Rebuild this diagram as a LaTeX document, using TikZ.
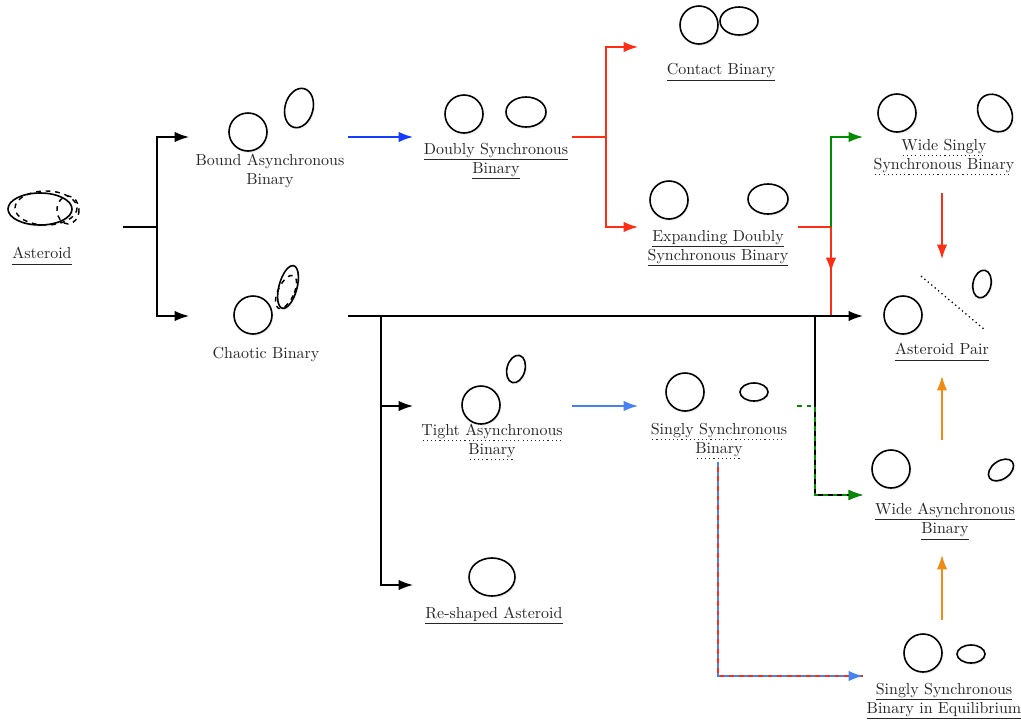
\documentclass[tikz,border=0pt]{standalone}
\usepackage{tikz}
\usetikzlibrary{arrows.meta,shadows}

\definecolor{redarr}{RGB}{255,45,20}
\definecolor{bluearr}{RGB}{20,60,255}
\definecolor{lightblue}{RGB}{70,130,240}
\definecolor{greenarr}{RGB}{0,140,0}
\definecolor{orangearr}{RGB}{240,140,20}

% solid and dotted underlines
\newsavebox{\ulinebox}
\newcommand{\solidul}[1]{\sbox{\ulinebox}{#1}\leavevmode\rlap{\usebox{\ulinebox}}%
  \raisebox{-3.6pt}[0pt][0pt]{\rule{\wd\ulinebox}{0.55pt}}}
\newcommand{\dottedul}[1]{\sbox{\ulinebox}{#1}\leavevmode\rlap{\usebox{\ulinebox}}%
  \raisebox{-3.6pt}[0pt][0pt]{\hbox to \wd\ulinebox{\leaders\hbox to 2.6pt{\hss\rule{0.7pt}{0.7pt}\hss}\hfil}}}

\tikzset{
  body/.style={draw=black, line width=1pt, fill=white,
    drop shadow={opacity=0.12, shadow xshift=0.8pt, shadow yshift=-1.2pt}},
  label/.style={align=center, text=black!85, font=\normalsize},
  conn/.style={line width=0.9pt},
  tip/.style={-{Latex[length=9pt,width=6.5pt]}},
}

\begin{document}
\begin{tikzpicture}[x=0.022cm,y=-0.022cm]
\useasboundingbox (0,0) rectangle (1021,721);

% bodies
\draw[body] (40,209) ellipse [x radius=32, y radius=16];
\draw[line width=0.9pt, dashed] (46,208) ellipse [x radius=31, y radius=17];
\draw[line width=0.9pt, dashed] (68,210) ellipse [x radius=11, y radius=14];
\draw[body] (248,132) circle [radius=19];
\draw[body, rotate around={-15:(299,108)}] (299,108) ellipse [x radius=14, y radius=20];
\draw[body] (253,315) circle [radius=19];
\draw[body, rotate around={-15:(288,287)}] (288,287) ellipse [x radius=9, y radius=22];
\draw[line width=0.9pt, dashed, rotate around={-25:(286,292)}] (286,292) ellipse [x radius=8, y radius=18];
\draw[body] (464,114) circle [radius=19];
\draw[body] (526,112) ellipse [x radius=20, y radius=15];
\draw[body] (699,25) circle [radius=19];
\draw[body] (739,21) ellipse [x radius=19, y radius=14];
\draw[body] (669,200) circle [radius=19];
\draw[body] (768,199) ellipse [x radius=20, y radius=15];
\draw[body] (897,113) circle [radius=19];
\draw[body, rotate around={35:(995,113)}] (995,113) ellipse [x radius=16, y radius=20];
\draw[body] (903,315) circle [radius=19];
\draw[body, rotate around={-12:(982,284)}] (982,284) ellipse [x radius=9, y radius=14];
\draw[line width=0.8pt, dotted] (921,276) -- (985,330);
\draw[body] (481,405) circle [radius=19];
\draw[body, rotate around={-15:(516,369)}] (516,369) ellipse [x radius=9, y radius=14];
\draw[body] (685,392) circle [radius=19];
\draw[body] (754,392) ellipse [x radius=14, y radius=9];
\draw[body] (891,469) circle [radius=19];
\draw[body, rotate around={35:(1001,470)}] (1001,470) ellipse [x radius=14, y radius=9];
\draw[body] (923,653) circle [radius=19];
\draw[body] (971,654) ellipse [x radius=14, y radius=9];
\draw[body] (492,577) ellipse [x radius=23, y radius=19];

% labels
\node[label] (ast)  at (42,253)  {\solidul{Asteroid}};
\node[label] (bab)  at (270,171) {Bound Asynchronous\\Binary};
\node[label] (cb)   at (266,354) {Chaotic Binary};
\node[label] (dsb)  at (496,160) {\solidul{Doubly Synchronous}\\\solidul{Binary}};
\node[label] (con)  at (721,71)  {\solidul{Contact Binary}};
\node[label] (edsb) at (718,247) {\solidul{Expanding Doubly}\\\solidul{Synchronous Binary}};
\node[label] (wssb) at (944,156) {\dottedul{Wide Singly}\\\dottedul{Synchronous Binary}};
\node[label] (ap)   at (942,349) {\solidul{Asteroid Pair}};
\node[label] (tab)  at (492,441) {\dottedul{Tight Asynchronous}\\\dottedul{Binary}};
\node[label] (ssb)  at (719,440) {\dottedul{Singly Synchronous}\\\dottedul{Binary}};
\node[label] (wab)  at (945,520) {\solidul{Wide Asynchronous}\\\solidul{Binary}};
\node[label] (sse)  at (944,700) {\solidul{Singly Synchronous}\\\solidul{Binary in Equilibrium}};
\node[label] (ra)   at (494,614) {\solidul{Re-shaped Asteroid}};

% ports and junctions
\coordinate (ast-out)   at (123,227);
\coordinate (j1)        at (157,227);
\coordinate (bab-in)    at (189,137);
\coordinate (cb-in)     at (189,316);
\coordinate (bab-out)   at (348,137);
\coordinate (dsb-in)    at (413,137);
\coordinate (dsb-out)   at (572,137);
\coordinate (j2)        at (606,137);
\coordinate (con-in)    at (638,47);
\coordinate (edsb-in)   at (638,227);
\coordinate (edsb-out)  at (798,227);
\coordinate (j3)        at (831,227);
\coordinate (j3-mid)    at (831,272);
\coordinate (j4)        at (831,316);
\coordinate (wssb-in)   at (863,137);
\coordinate (cb-out)    at (348,316);
\coordinate (ap-in)     at (863,316);
\coordinate (j5)        at (381,316);
\coordinate (tab-in)    at (413,406);
\coordinate (ra-in)     at (413,585);
\coordinate (j6)        at (815,316);
\coordinate (wab-in)    at (863,495);
\coordinate (tab-out)   at (572,406);
\coordinate (ssb-in)    at (638,406);
\coordinate (ssb-out)   at (797,406);
\coordinate (j7)        at (815,406);
\coordinate (ssb-down)  at (718,462);
\coordinate (sse-in)    at (863,676);
\coordinate (wssb-down) at (942,193);
\coordinate (ap-top)    at (942,259);
\coordinate (wab-up)    at (942,440);
\coordinate (ap-bot)    at (942,376);
\coordinate (sse-up)    at (942,620);
\coordinate (wab-bot)   at (942,555);

% connectors
\draw[conn] (ast-out) -- (j1);
\draw[conn,tip] (j1) |- (bab-in);
\draw[conn,tip] (j1) |- (cb-in);
\draw[conn,tip,bluearr] (bab-out) -- (dsb-in);
\draw[conn,redarr] (dsb-out) -- (j2);
\draw[conn,tip,redarr] (j2) |- (con-in);
\draw[conn,tip,redarr] (j2) |- (edsb-in);
\draw[conn,redarr] (edsb-out) -- (j3);
\draw[conn,tip,greenarr] (j3) |- (wssb-in);
\draw[conn,redarr] (j3) -- (j4);
\draw[conn,tip,redarr] (j3) -- (j3-mid);
\draw[conn,tip,line width=1.1pt] (cb-out) -- (ap-in);
\draw[conn,tip] (j5) |- (tab-in);
\draw[conn,tip] (j5) |- (ra-in);
\draw[conn,tip] (j6) |- (wab-in);
\draw[conn,tip,greenarr,dashed] (ssb-out) -- (j7) |- (wab-in);
\draw[conn,tip,lightblue] (tab-out) -- (ssb-in);
\draw[conn,redarr] (ssb-down) |- (sse-in);
\draw[conn,tip,lightblue,dashed] (ssb-down) |- (sse-in);
\draw[conn,tip,redarr] (wssb-down) -- (ap-top);
\draw[conn,tip,orangearr] (wab-up) -- (ap-bot);
\draw[conn,tip,orangearr] (sse-up) -- (wab-bot);
\end{tikzpicture}
\end{document}
